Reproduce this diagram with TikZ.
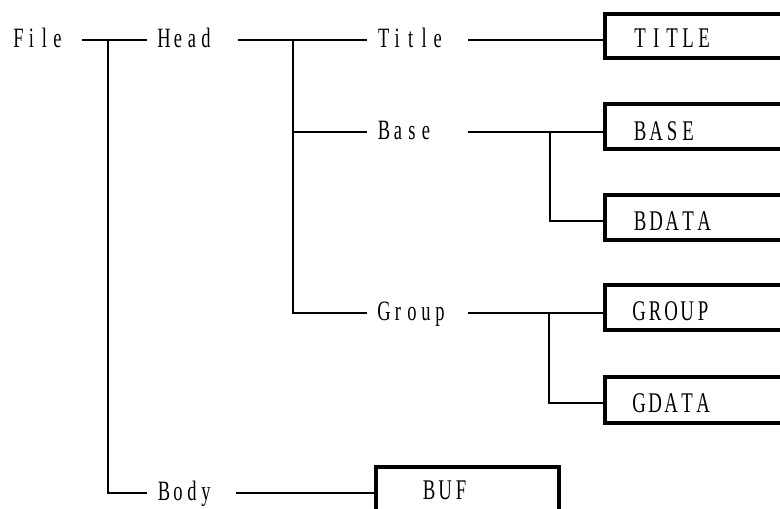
\documentclass[tikz,border=0pt]{standalone}
\usepackage{fontspec}
\setmainfont[FakeStretch=0.66]{Liberation Serif}
\makeatletter
\newcommand\pitched[2]{\@tfor\pch:=#2\do{\makebox[#1]{\pch}}}
\makeatother
\begin{document}
\begin{tikzpicture}[x=1pt,y=-1pt,
  conn/.style={line width=1.6pt},
  lab/.style={anchor=west, inner xsep=10pt, inner ysep=0pt, outer sep=0pt,
    text height=18pt, text depth=3pt, align=left,
    font=\fontsize{28}{30}\selectfont},
  boxn/.style={draw, line width=3.2pt, anchor=north west, inner sep=0pt, outer sep=0pt},
  boxtext/.style={anchor=west, inner sep=0pt, text height=18.5pt, text depth=0pt,
    font=\fontsize{28.5}{30}\selectfont}]
\fill[white] (0,0) rectangle (780,509);
\useasboundingbox (0,0) rectangle (780,509);
\clip (0,0) rectangle (780,509);

% boxes
\node[boxn, minimum width=250pt, minimum height=44pt] (bTITLE) at (605,14) {};
\node[boxn, minimum width=250pt, minimum height=45pt] (bBASE) at (605,104) {};
\node[boxn, minimum width=250pt, minimum height=45pt] (bBDATA) at (605,195) {};
\node[boxn, minimum width=250pt, minimum height=45pt] (bGROUP) at (605,285) {};
\node[boxn, minimum width=250pt, minimum height=46pt] (bGDATA) at (605,377) {};
\node[boxn, minimum width=183pt, minimum height=80pt] (bBUF) at (376,467) {};

% box texts
\node[boxtext] (tTITLE) at (632,38.5) {\pitched{16pt}{TITLE}};
\node[boxtext] (tBASE) at (632,131) {\pitched{16pt}{BASE}};
\node[boxtext] (tBDATA) at (632,221) {\pitched{16pt}{BDATA}};
\node[boxtext] (tGROUP) at (631,311) {\pitched{16pt}{GROUP}};
\node[boxtext] (tGDATA) at (631,403) {\pitched{16pt}{GDATA}};
\node[boxtext] (tBUF) at (421,490.5) {\pitched{16pt}{BUF}};

% labels
\node[lab, text width=60pt] (file) at (2,40) {\pitched{13pt}{File}};
\node[lab, text width=71pt] (head) at (147,40) {\pitched{14pt}{Head}};
\node[lab, text width=81pt] (title) at (367,40) {\pitched{13.5pt}{Title}};
\node[lab, text width=81pt] (base) at (367,132) {\pitched{14pt}{Base}};
\node[lab, text width=81pt] (group) at (367,313) {\pitched{14pt}{Group}};
\node[lab, text width=69pt] (body) at (147,493) {\pitched{14pt}{Body}};

% junctions
\coordinate (j1) at (108,40);
\coordinate (j2) at (293,40);
\coordinate (j3) at (550,132);
\coordinate (j4) at (549,313);

% connectors
\draw[conn] (file.east) -- (head.west);
\draw[conn] (j1) |- (body.west);
\draw[conn] (head.east) -- (title.west);
\draw[conn] (j2) |- (base.west);
\draw[conn] (j2) |- (group.west);
\draw[conn] (title.east) -- (title.east -| bTITLE.west);
\draw[conn] (base.east) -- (base.east -| bBASE.west);
\draw[conn] (j3) |- (tBDATA.west -| bBDATA.west);
\draw[conn] (group.east) -- (group.east -| bGROUP.west);
\draw[conn] (j4) |- (tGDATA.west -| bGDATA.west);
\draw[conn] (body.east) -- (body.east -| bBUF.west);
\end{tikzpicture}
\end{document}
